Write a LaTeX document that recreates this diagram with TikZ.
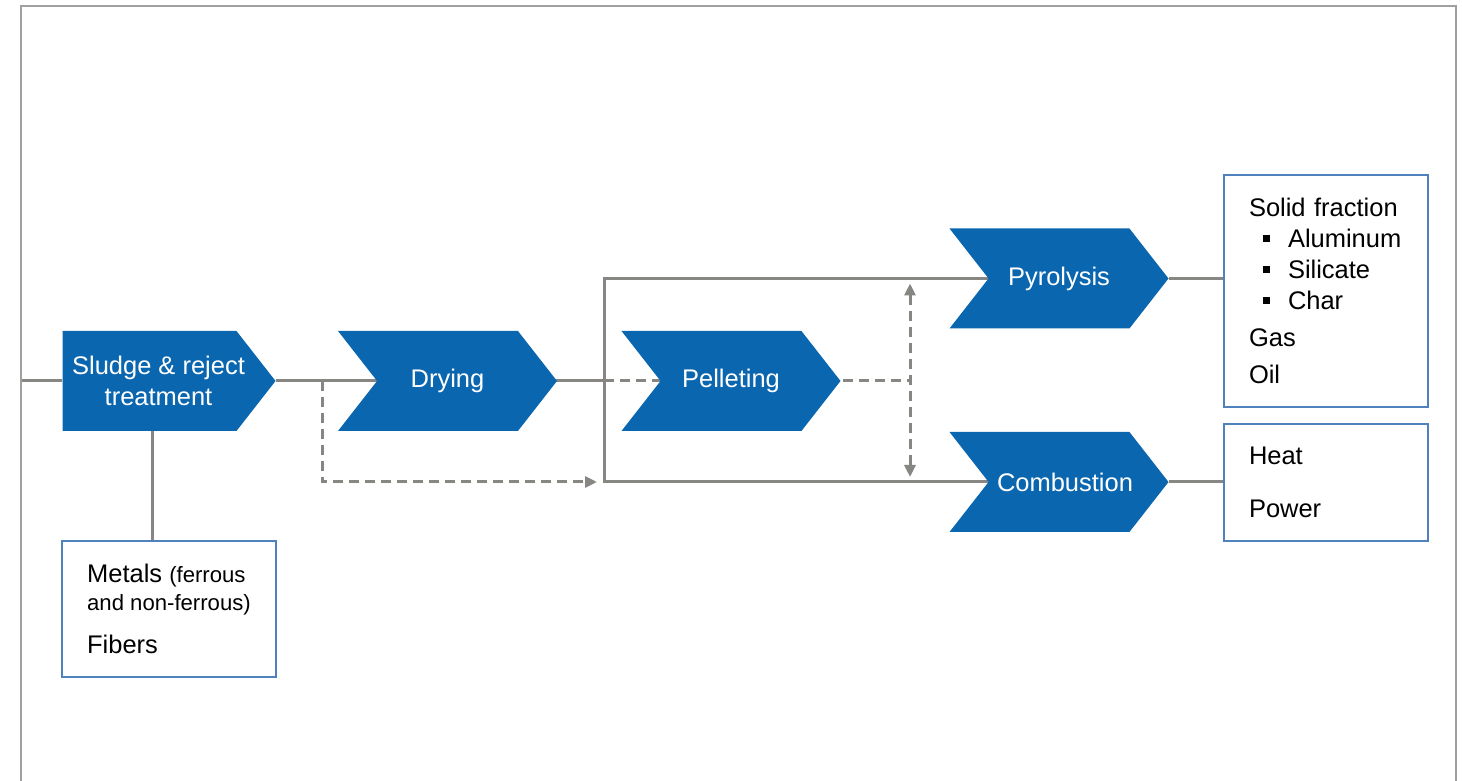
\documentclass[tikz,border=0pt]{standalone}
\usepackage{fontspec}
\setmainfont{Liberation Sans}
\usetikzlibrary{shapes.symbols,arrows.meta,backgrounds}
\definecolor{stepblue}{RGB}{11,102,176}
\definecolor{boxblue}{RGB}{79,129,189}
\definecolor{linegray}{RGB}{135,134,130}
\definecolor{framegray}{RGB}{160,160,160}
\newcommand{\sqbullet}{\hspace*{0.28cm}\rule[0.12cm]{0.13cm}{0.13cm}\hspace*{0.37cm}}
\newcommand{\subtextfont}{\fontsize{12.6}{15.9}\selectfont}
\newcommand{\nudge}[2]{\hspace*{#1}#2\hspace*{-#1}}

\begin{document}
\begin{tikzpicture}[
		process/.style={signal, signal to=east, signal from=west, signal pointer angle=104,
			fill=stepblue, draw=none, text=white, minimum width=4.38cm, minimum height=2cm,
			inner sep=0pt, align=center, font=\fontsize{14.5}{17.6}\selectfont},
		outbox/.style={draw=boxblue, line width=0.055cm, fill=white, align=left,
			inner xsep=0.5cm, font=\fontsize{14.5}{17.6}\selectfont},
		flow/.style={draw=linegray, line width=0.06cm},
		dashflow/.style={flow, dash pattern=on 0.2cm off 0.12cm},
		flowtip/.style={-{Triangle[length=0.24cm,width=0.22cm]}}
	]
		%%%%% START %%%%%
		
		\useasboundingbox (0, 0) rectangle (29.24, 15.62);
		\draw[framegray, line width=0.04cm] (0.42, 0) -- (0.42, 15.5) -- (29.12, 15.5) -- (29.12, 0);
		
		% process steps
		\node[process, signal from=nowhere, minimum width=4.26cm] (sludge) at (2.99, 8)
			{\nudge{0.18cm}{Sludge \& reject}\\\nudge{0.18cm}{treatment}};
		\node[process] (drying) at (8.95, 8) {Drying};
		\node[process] (pellet) at (14.62, 8) {Pelleting};
		\node[process] (pyro) at (21.18, 10.05) {Pyrolysis};
		\node[process] (comb) at (21.18, 5.98) {\nudge{0.12cm}{Combustion}};
		
		% products
		\node[outbox, minimum width=4.28cm, minimum height=2.72cm,
			font=\fontsize{14.5}{15.9}\selectfont] (metals) at (3.38, 3.44)
			{Metals {\subtextfont(ferrous}\\{\subtextfont and non-ferrous)}\\[0.3cm]Fibers};
		\node[outbox, minimum width=4.08cm, minimum height=4.64cm, text width=3.08cm] (solid) at (26.52, 9.8)
			{Solid fraction\\\sqbullet Aluminum\\\sqbullet Silicate\\\sqbullet Char\\[0.12cm]Gas\\[0.12cm]Oil};
		\node[outbox, minimum width=4.08cm, minimum height=2.34cm, text width=3.08cm] (energy) at (26.52, 5.97)
			{Heat\\[0.44cm]Power};
		
		\coordinate (in) at (0.42, 8);
		\coordinate (bypass) at (6.44, 8);
		\coordinate (split) at (12.08, 8);
		\coordinate (bypassend) at (11.94, 5.98);
		\coordinate (hub) at (18.2, 8);
		
		\begin{pgfonlayer}{background}
			\draw[flow] (in) -- (sludge.west);
			\draw[flow] (sludge.east) -- (drying.center);
			\draw[flow] (drying.center) -- (split);
			\draw[flow] (pyro.center) -| (split) |- (comb.center);
			\draw[dashflow] (split) -- (pellet.center);
			\draw[dashflow] (pellet.center) -- (hub);
		\end{pgfonlayer}
		
		\draw[dashflow, flowtip] (bypass) |- (bypassend);
		\draw[dashflow, {Triangle[length=0.24cm,width=0.22cm]}-{Triangle[length=0.24cm,width=0.22cm]},
			shorten <=0.1cm, shorten >=0.1cm] (hub |- pyro.center) -- (hub |- comb.center);
		
		\draw[flow] ([xshift=-0.34cm]metals.north) -- ([xshift=-0.34cm]metals.north |- sludge.south);
		\draw[flow] (pyro.east) -- (pyro.east -| solid.west);
		\draw[flow] (comb.east) -- (comb.east -| energy.west);
		
		%%%%% END %%%%%
	\end{tikzpicture}
\end{document}
